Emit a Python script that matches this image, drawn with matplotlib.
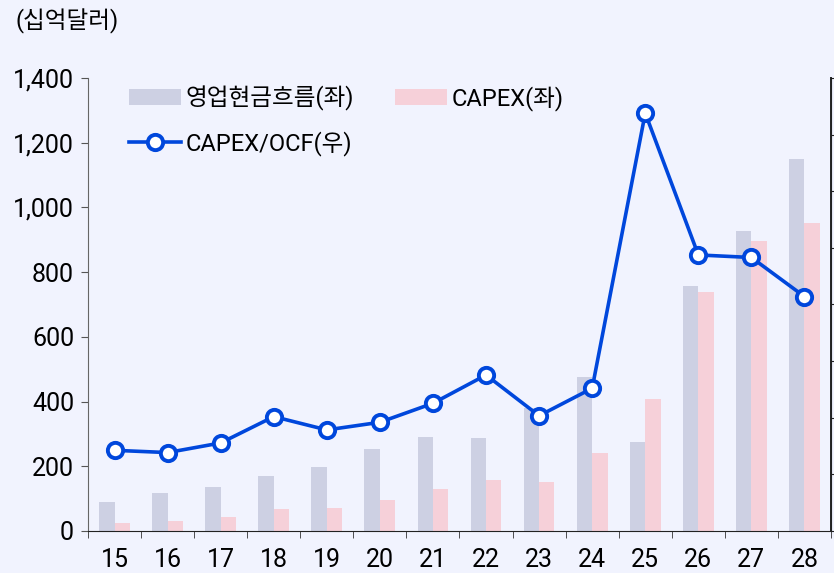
import matplotlib
matplotlib.use("Agg")
from matplotlib import pyplot as plt
import numpy as np

plt.rcParams['font.family'] = ['Roboto', 'Noto Sans CJK KR', 'DejaVu Sans']

years = ["15", "16", "17", "18", "19", "20", "21", "22", "23", "24", "25", "26", "27", "28"]
ocf = [90, 118, 136, 169, 197, 252, 290, 287, 380, 476, 275, 757, 926, 1150]
capex = [26, 32, 43, 68, 70, 97, 130, 158, 152, 240, 407, 739, 895, 953]
ratio = [28.5, 27.7, 31.1, 40.4, 35.7, 38.4, 45.1, 55.1, 40.7, 50.4, 147.6, 97.5, 96.6, 82.8]

bg = "#F1F3FE"
fig = plt.figure(figsize=(8.34, 5.73), dpi=100, facecolor=bg)
ax = fig.add_axes([0.1055, 0.0733, 0.8909, 0.7906], facecolor=bg)
ax2 = ax.twinx()

x = np.arange(len(years))
w = 0.29
b1 = ax.bar(x - w / 2, ocf, w, color="#CDD0E3", label="영업현금흐름(좌)", zorder=2)
b2 = ax.bar(x + w / 2, capex, w, color="#F6D0D9", label="CAPEX(좌)", zorder=2)
l1, = ax2.plot(x, ratio, color="#0047DC", lw=2.6, marker="o", markersize=11,
               markerfacecolor="white", markeredgewidth=2.8, label="CAPEX/OCF(우)")

ax.set_xlim(-0.5, len(years) - 0.5)
ax.set_ylim(0, 1400)
ax.set_yticks(range(0, 1401, 200))
ax.set_yticklabels(["{:,}".format(v) for v in range(0, 1401, 200)], fontsize=18)
ax.set_xticks(x)
ax.set_xticklabels(years, fontsize=18)
ax.set_xticks(np.arange(-0.5, len(years), 1), minor=True)
ax.tick_params(axis="x", which="major", length=0, pad=12)
ax.tick_params(axis="x", which="minor", length=5, color="#333333")
ax.tick_params(axis="y", length=5, color="#555555", pad=5)

ax2.set_ylim(0, 160)
ax2.set_yticks(range(0, 161, 20))
ax2.set_yticklabels([])
ax2.tick_params(axis="y", length=5, color="#222222")

for a in (ax, ax2):
    a.spines["top"].set_visible(False)
ax.spines["left"].set_color("#666666")
ax.spines["bottom"].set_color("#222222")
ax2.spines["left"].set_visible(False)
ax2.spines["bottom"].set_visible(False)
ax2.spines["right"].set_color("#222222")
ax2.spines["right"].set_linewidth(1.4)

fig.text(0.018, 0.962, "(십억달러)", fontsize=17, va="center", ha="left")

leg = ax.legend([b1, l1, b2], ["영업현금흐름(좌)", "CAPEX/OCF(우)", "CAPEX(좌)"],
                ncol=2, frameon=False, fontsize=17, loc="upper left",
                bbox_to_anchor=(0.027, 1.03), handlelength=2.2, handleheight=0.7,
                handletextpad=0.2, columnspacing=1.7, labelspacing=0.85)

fig.savefig("out.png", dpi=100, facecolor=bg)
